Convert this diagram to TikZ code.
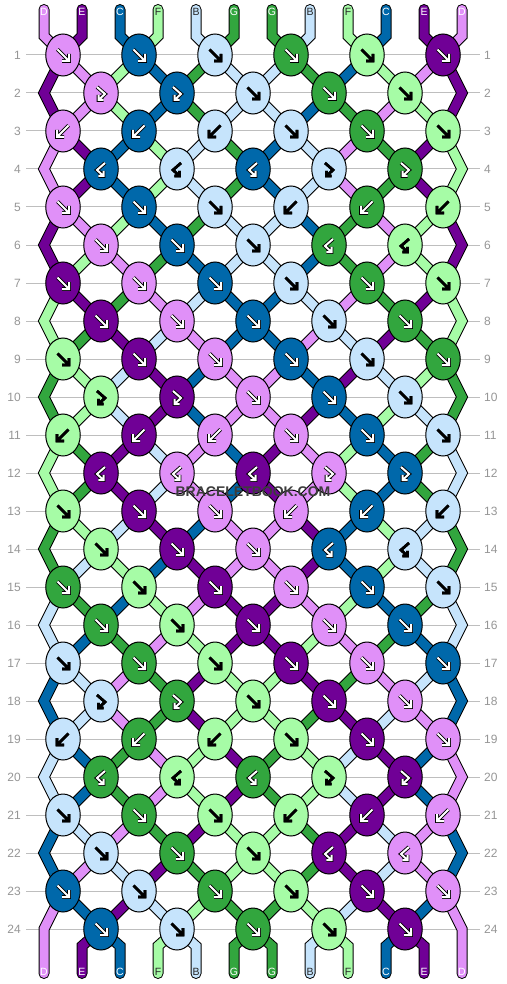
\documentclass[tikz,border=0pt]{standalone}
\usepackage{fontspec}
\setmainfont{Liberation Sans}
\usetikzlibrary{shapes.geometric}
\definecolor{colD}{RGB}{224,144,248}
\definecolor{colE}{RGB}{112,0,150}
\definecolor{colC}{RGB}{0,104,170}
\definecolor{colF}{RGB}{166,252,166}
\definecolor{colB}{RGB}{198,228,252}
\definecolor{colG}{RGB}{50,166,62}
\definecolor{rowgray}{RGB}{190,190,190}
\definecolor{labgray}{RGB}{150,150,150}
\definecolor{wmgray}{RGB}{60,60,60}
\newcommand\getP[2]{%
  \pgfmathsetmacro\py{55+38*(#1-1)}%
  \pgfmathsetmacro\xp{44+38*(#2-1)}%
  \ifodd#1\relax
    \ifodd#2\relax \pgfmathsetmacro\px{\xp+19}\else \pgfmathsetmacro\px{\xp-19}\fi
  \else
    \ifnum#2=1\relax \let\px\xp
    \else\ifnum#2=12\relax \let\px\xp
    \else\ifodd#2\relax \pgfmathsetmacro\px{\xp-19}\else\pgfmathsetmacro\px{\xp+19}\fi\fi\fi
  \fi}
\newcommand\drawstrings[1]{%
 \foreach \st [count=\ri from 0] in {%
  {D,E,C,F,B,G,G,B,F,C,E,D},%
  {E,D,F,C,G,B,B,G,C,F,D,E},%
  {E,D,F,C,G,B,B,C,G,D,F,E},%
  {D,E,C,F,B,G,C,B,D,G,E,F},%
  {D,E,C,F,B,G,C,B,D,G,E,F},%
  {E,D,F,C,G,B,B,C,G,D,F,E},%
  {E,F,D,G,C,B,B,C,G,D,F,E},%
  {F,E,G,D,B,C,C,B,D,G,E,F},%
  {F,G,E,B,D,C,C,D,B,E,G,F},%
  {G,F,B,E,C,D,D,C,E,B,F,G},%
  {G,F,B,E,C,D,D,E,C,F,B,G},%
  {F,G,E,B,D,C,E,D,F,C,G,B},%
  {F,G,E,B,D,C,E,D,F,C,G,B},%
  {G,F,B,E,C,D,D,E,C,F,B,G},%
  {G,B,F,C,E,D,D,E,C,F,B,G},%
  {B,G,C,F,D,E,E,D,F,C,G,B},%
  {B,C,G,D,F,E,E,F,D,G,C,B},%
  {C,B,D,G,E,F,F,E,G,D,B,C},%
  {C,B,D,G,E,F,F,G,E,B,D,C},%
  {B,C,G,D,F,E,G,F,B,E,C,D},%
  {B,C,G,D,F,E,G,F,B,E,C,D},%
  {C,B,D,G,E,F,F,G,E,B,D,C},%
  {C,D,B,E,G,F,F,G,E,B,D,C},%
  {D,C,E,B,F,G,G,F,B,E,C,D},%
  {D,E,C,F,B,G,G,B,F,C,E,D}%
 }{%
  \foreach \cl [count=\pp] in \st {%
   \pgfmathtruncatemacro\rn{\ri+1}%
   \pgfmathtruncatemacro\rnn{\ri+2}%
   \def\edge{0}\ifnum\pp=1 \def\edge{1}\fi\ifnum\pp=12 \def\edge{1}\fi
   \ifnum\ri=0
     \draw[#1] (T\pp) -- (U\pp) -- (P1-\pp);
   \else\ifnum\ri=24
     \ifnum\edge=0 \draw[#1] (P24-\pp) -- (V\pp) -- (W\pp);\fi
   \else
     \ifnum\edge=1
       \ifodd\ri
         \ifnum\ri=23 \draw[#1] (P23-\pp) -- (P24-\pp) -- (W\pp);
         \else \draw[#1] (P\ri-\pp) -- (P\rn-\pp) -- (P\rnn-\pp);\fi
       \fi
     \else
       \draw[#1] (P\ri-\pp) -- (P\rn-\pp);
     \fi
   \fi\fi
  }%
 }%
}
\tikzset{
  aF/.pic={\draw[aout] (-5.5,-5.5)--(5,5) (-1,6)--(6,6)--(6,-1); \draw[ain] (-5.5,-5.5)--(5,5) (-1,6)--(6,6)--(6,-1);},
  aB/.pic={\draw[aout] (5.5,-5.5)--(-5,5) (1,6)--(-6,6)--(-6,-1); \draw[ain] (5.5,-5.5)--(-5,5) (1,6)--(-6,6)--(-6,-1);},
  aFB/.pic={\draw[aout] (-4,-6)--(4,1)--(-2.5,7) (-2.5,1.8)--(-2.5,7)--(2.7,7); \draw[ain] (-4,-6)--(4,1)--(-2.5,7) (-2.5,1.8)--(-2.5,7)--(2.7,7);},
  aBF/.pic={\draw[aout] (4,-6)--(-4,1)--(2.5,7) (2.5,1.8)--(2.5,7)--(-2.7,7); \draw[ain] (4,-6)--(-4,1)--(2.5,7) (2.5,1.8)--(2.5,7)--(-2.7,7);},
}
\begin{document}
\begin{tikzpicture}[x=1pt,y=-1pt,
  rowline/.style={draw=rowgray,line width=1pt},
  rowlab/.style={text=labgray,font=\fontsize{12pt}{12pt}\selectfont,inner sep=0pt},
  strout/.style={draw=black,line width=11pt,line cap=round,line join=miter},
  strcol/.style={draw=col#1,line width=9pt,line cap=round,line join=miter},
  knot/.style={ellipse,draw=black,line width=1pt,minimum width=34.5pt,minimum height=42pt,inner sep=0pt},
  strlab/.style={font=\fontsize{10.5pt}{10.5pt}\selectfont,inner sep=0pt},
]
\useasboundingbox (0,0) rectangle (506,984);
\fill[white] (0,0) rectangle (506,984);
% row lines and labels
\foreach \rw in {1,...,24}{%
  \pgfmathsetmacro\yy{55+38*(\rw-1)}%
  \draw[rowline] (26,\yy) -- (480,\yy);
  \node[rowlab,anchor=east] (RL\rw) at (21,\yy) {\rw};
  \node[rowlab,anchor=west] (RR\rw) at (484,\yy) {\rw};
}
% coordinates
\foreach \rw in {1,...,24}{\foreach \pp in {1,...,12}{\getP{\rw}{\pp}\coordinate (P\rw-\pp) at (\px,\py);}}
\foreach \pp in {1,...,12}{%
  \pgfmathsetmacro\xp{44+38*(\pp-1)}%
  \coordinate (T\pp) at (\xp,9.5);
  \coordinate (U\pp) at (\xp,36);
  \coordinate (V\pp) at (\xp,946);
  \coordinate (W\pp) at (\xp,973.5);
}
% strings
\drawstrings{strout}
\drawstrings{strcol=\cl}
% string labels
\foreach \cl [count=\pp] in {D,E,C,F,B,G,G,B,F,C,E,D}{%
  \pgfmathsetmacro\xp{44+38*(\pp-1)}%
  \def\tc{white}\if F\cl\def\tc{black!85}\fi\if B\cl\def\tc{black!85}\fi
  \node[strlab,text=\tc] (TL\pp) at (\xp,12) {\cl};
  \node[strlab,text=\tc] (BL\pp) at (\xp,972) {\cl};
}
% knots
\foreach \kl [count=\rw] in {%
 {D/1,C/1,B/1,G/1,F/1,E/1},%
 {D/3,C/3,B/1,G/1,F/1},%
 {D/2,C/2,B/2,B/1,G/1,F/1},%
 {C/4,B/4,C/4,B/3,G/3},%
 {D/1,C/1,B/1,B/2,G/2,F/2},%
 {D/1,C/1,B/1,G/4,F/4},%
 {E/1,D/1,C/1,B/1,G/1,F/1},%
 {E/1,D/1,C/1,B/1,G/1},%
 {F/1,E/1,D/1,C/1,B/1,G/1},%
 {F/3,E/3,D/1,C/1,B/1},%
 {F/2,E/2,D/2,D/1,C/1,B/1},%
 {E/4,D/4,E/4,D/3,C/3},%
 {F/1,E/1,D/1,D/2,C/2,B/2},%
 {F/1,E/1,D/1,C/4,B/4},%
 {G/1,F/1,E/1,D/1,C/1,B/1},%
 {G/1,F/1,E/1,D/1,C/1},%
 {B/1,G/1,F/1,E/1,D/1,C/1},%
 {B/3,G/3,F/1,E/1,D/1},%
 {B/2,G/2,F/2,F/1,E/1,D/1},%
 {G/4,F/4,G/4,F/3,E/3},%
 {B/1,G/1,F/1,F/2,E/2,D/2},%
 {B/1,G/1,F/1,E/4,D/4},%
 {C/1,B/1,G/1,F/1,E/1,D/1},%
 {C/1,B/1,G/1,F/1,E/1}%
}{%
  \foreach \cl/\ty [count=\kk] in \kl {%
    \pgfmathsetmacro\ky{55+38*(\rw-1)}%
    \ifodd\rw\relax \pgfmathsetmacro\kx{63+76*(\kk-1)}\else\pgfmathsetmacro\kx{101+76*(\kk-1)}\fi
    \node[knot,fill=col\cl] (K\rw-\kk) at (\kx,\ky) {};
    \def\dk{1}\if F\cl\def\dk{0}\fi\if B\cl\def\dk{0}\fi
    \ifnum\dk=1
      \tikzset{aout/.style={draw=black,line width=3.8pt,line cap=square,line join=miter},ain/.style={draw=white,line width=2pt,line cap=square,line join=miter}}%
    \else
      \tikzset{aout/.style={draw=black,line width=2.7pt,line cap=square,line join=miter},ain/.style={draw=black,line width=2.7pt,line cap=square,line join=miter}}%
    \fi
    \ifcase\ty\or \pic at (K\rw-\kk) {aF};\or \pic at (K\rw-\kk) {aB};\or \pic at (K\rw-\kk) {aFB};\or \pic at (K\rw-\kk) {aBF};\fi
  }%
}
\node[font=\bfseries\fontsize{14pt}{14pt}\selectfont,text=wmgray,inner sep=0pt] (wm) at (253,491.5) {BRACELETBOOK.COM};
\end{tikzpicture}
\end{document}
